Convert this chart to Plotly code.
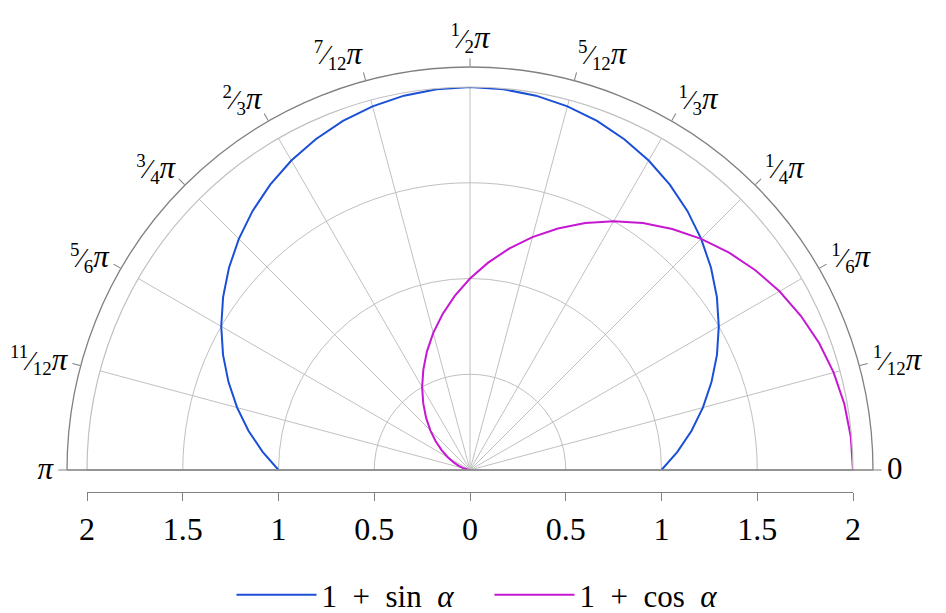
import plotly.graph_objects as go

# angles in degrees, 0..180 every 5 degrees
alpha_deg = [0, 5, 10, 15, 20, 25, 30, 35, 40, 45, 50, 55, 60, 65, 70, 75, 80, 85, 90,
             95, 100, 105, 110, 115, 120, 125, 130, 135, 140, 145, 150, 155, 160, 165, 170, 175, 180]

# radius values
r_sin = [1.000, 1.087, 1.174, 1.259, 1.342, 1.423, 1.500, 1.574, 1.643, 1.707, 1.766, 1.819, 1.866, 1.906, 1.940, 1.966,
         1.985, 1.996, 2.000, 1.996, 1.985, 1.966, 1.940, 1.906, 1.866, 1.819, 1.766, 1.707, 1.643, 1.574, 1.500, 1.423,
         1.342, 1.259, 1.174, 1.087, 1.000]
r_cos = [2.000, 1.996, 1.985, 1.966, 1.940, 1.906, 1.866, 1.819, 1.766, 1.707, 1.643, 1.574, 1.500, 1.423, 1.342, 1.259,
         1.174, 1.087, 1.000, 0.913, 0.826, 0.741, 0.658, 0.577, 0.500, 0.426, 0.357, 0.293, 0.234, 0.181, 0.134, 0.094,
         0.060, 0.034, 0.015, 0.004, 0.000]

sp = '\u2002'
names = ['1' + sp + '+' + sp + 'sin' + sp + '<i>α</i>' + sp + sp, '1' + sp + '+' + sp + 'cos' + sp + '<i>α</i>']
colors = ['#1a4fd6', '#c617d2']

# angular ticks (multiples of pi/12)
PI = '<span style="font-size:31px"><i>π</i></span>'
theta_ticks = [0, 15, 30, 45, 60, 75, 90, 105, 120, 135, 150, 165, 180]
theta_labels = ['<span style="font-size:31px">0</span>',
                '<sup>1</sup>⁄<sub>12</sub>' + PI,
                '<sup>1</sup>⁄<sub>6</sub>' + PI,
                '<sup>1</sup>⁄<sub>4</sub>' + PI,
                '<sup>1</sup>⁄<sub>3</sub>' + PI,
                '<sup>5</sup>⁄<sub>12</sub>' + PI,
                '<sup>1</sup>⁄<sub>2</sub>' + PI,
                '<sup>7</sup>⁄<sub>12</sub>' + PI,
                '<sup>2</sup>⁄<sub>3</sub>' + PI,
                '<sup>3</sup>⁄<sub>4</sub>' + PI,
                '<sup>5</sup>⁄<sub>6</sub>' + PI,
                '<sup>11</sup>⁄<sub>12</sub>' + PI,
                PI]

# bottom radius axis (mirrored both sides)
r_ticks = [-2, -1.5, -1, -0.5, 0, 0.5, 1, 1.5, 2]
r_labels = ['2', '1.5', '1', '0.5', '0', '0.5', '1', '1.5', '2']

# the page puts the figure 8px in from the top-left corner
W, H = 938, 605
cx, cy = 462, 462      # centre in px
R_grid, R_frame = 383, 403
axis_y = 484
legend_y = 587

FONT = 'Liberation Serif'
GRID = '#c0c0c0'
FRAME = '#808080'

fig = go.Figure()

# helper traces so the frame subplot and the bottom axis get drawn
fig.add_trace(go.Scatterpolar(r=[0], theta=[0], mode='markers', marker=dict(opacity=0),
                              showlegend=False, hoverinfo='skip', subplot='polar2'))
fig.add_trace(go.Scatter(x=[0], y=[0], mode='markers', marker=dict(opacity=0),
                         showlegend=False, hoverinfo='skip'))

for r, name, c in zip([r_sin, r_cos], names, colors):
    fig.add_trace(go.Scatterpolar(
        r=r, theta=alpha_deg, mode='lines', name=name,
        line=dict(color=c, width=2),
        subplot='polar'
    ))

fig.update_layout(
    width=W, height=H,
    margin=dict(l=0, r=0, t=0, b=0, autoexpand=False),
    paper_bgcolor='white',
    plot_bgcolor='rgba(0,0,0,0)',
    font=dict(family=FONT, size=32, color='black'),
    polar=dict(
        domain=dict(x=[(cx - R_grid) / W, (cx + R_grid) / W],
                    y=[(H - cy) / H, (H - cy + R_grid) / H]),
        sector=[0, 180],
        bgcolor='rgba(0,0,0,0)',
        radialaxis=dict(range=[0, 2], tickmode='array', tickvals=[0.5, 1, 1.5, 2],
                        showticklabels=False, ticks='', showline=False,
                        gridcolor=GRID, gridwidth=1.2),
        angularaxis=dict(tickmode='array', tickvals=theta_ticks, showticklabels=False,
                         ticks='', showline=True, linecolor=GRID, linewidth=1.2,
                         gridcolor=GRID, gridwidth=1.2,
                         direction='counterclockwise', rotation=0),
    ),
    polar2=dict(
        domain=dict(x=[(cx - R_frame) / W, (cx + R_frame) / W],
                    y=[(H - cy) / H, (H - cy + R_frame) / H]),
        sector=[0, 180],
        bgcolor='rgba(0,0,0,0)',
        radialaxis=dict(visible=False, range=[0, 1]),
        angularaxis=dict(tickmode='array', tickvals=theta_ticks, ticktext=theta_labels,
                         showgrid=False, showline=True, linecolor=FRAME, linewidth=1.3,
                         ticks='outside', ticklen=8, tickwidth=1.3, tickcolor=FRAME,
                         tickfont=dict(family=FONT, size=27),
                         direction='counterclockwise', rotation=0),
    ),
    xaxis=dict(domain=[(cx - R_grid) / W, (cx + R_grid) / W], range=[-2, 2],
               anchor='free', position=(H - axis_y) / H,
               tickmode='array', tickvals=r_ticks, ticktext=r_labels,
               showline=True, linecolor=FRAME, linewidth=1.3,
               ticks='outside', ticklen=8, tickwidth=1.3, tickcolor=FRAME,
               showgrid=False, zeroline=False, tickfont=dict(family=FONT, size=32)),
    yaxis=dict(domain=[0, 0.15], visible=False, range=[1, 2]),
    legend=dict(orientation='h', x=0.5, xanchor='center', y=(H - legend_y) / H, yanchor='middle',
                font=dict(family=FONT, size=31), itemwidth=80),
)

fig.write_html("out.html")
